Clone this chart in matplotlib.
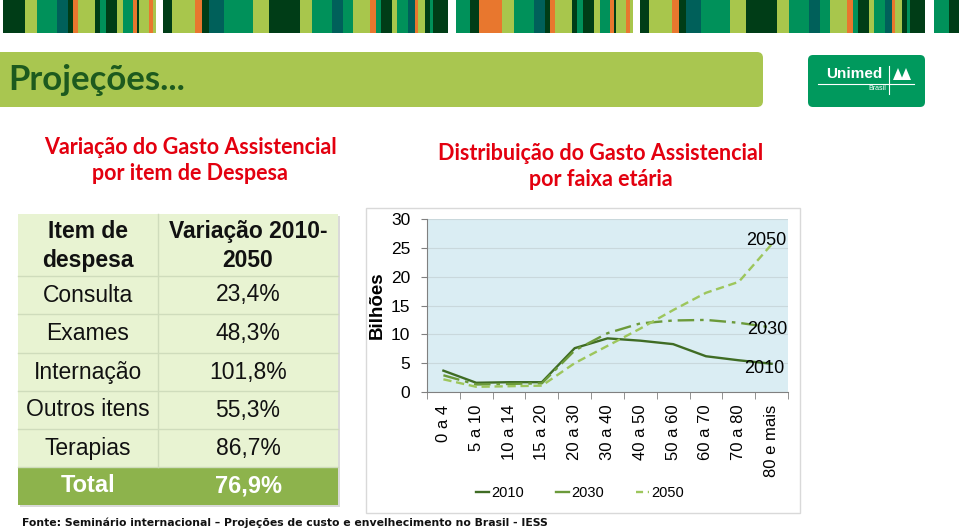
import matplotlib.pyplot as plt
from matplotlib.patches import Rectangle, FancyBboxPatch, Polygon
from matplotlib.lines import Line2D

# chart data
faixas = ["0 a 4", "5 a 10", "10 a 14", "15 a 20", "20 a 30", "30 a 40",
          "40 a 50", "50 a 60", "60 a 70", "70 a 80", "80 e mais"]
gasto_2010 = [3.7, 1.6, 1.7, 1.7, 7.6, 9.3, 8.9, 8.3, 6.2, 5.5, 4.9]
gasto_2030 = [2.9, 1.3, 1.4, 1.5, 7.2, 10.2, 11.9, 12.4, 12.5, 12.0, 11.2]
gasto_2050 = [2.2, 0.9, 1.0, 1.1, 5.0, 8.0, 11.0, 14.2, 17.2, 19.1, 25.6]

# table data
itens = ["Consulta", "Exames", "Internação", "Outros itens", "Terapias"]
variacao = ["23,4%", "48,3%", "101,8%", "55,3%", "86,7%"]
total_variacao = "76,9%"

FONTE = "Fonte: Seminário internacional – Projeções de custo e envelhecimento no Brasil - IESS"

COLORS = {"d": "#003d17", "l": "#a8c64c", "g": "#00915a", "t": "#00605a", "o": "#e8772e"}
# decorative header stripes (start px, end px, colour)
SEG1 = [(2.7, 25, "d"), (25, 36.7, "l"), (36.7, 57.3, "g"), (57.3, 68.3, "t"),
        (68.3, 72.7, "d"), (72.7, 78.3, "o"), (78.3, 95, "l"), (95, 100, "d"),
        (100, 106, "g"), (106, 116.7, "d"), (116.7, 122.7, "l"), (122.7, 132.7, "g"),
        (132.7, 137.3, "o"), (137.3, 139.3, "d"), (139.3, 149, "l"),
        (149, 152.7, "o"), (152.7, 156, "l")]
SEG2 = [(163.3, 171.7, "d"), (171.7, 195, "l"), (195, 202.3, "o"), (202.3, 209.3, "d"),
        (209.3, 224, "t"), (224, 253.3, "g"), (253.3, 269.3, "l"), (269.3, 300, "d"),
        (300, 311.7, "l"), (311.7, 332.3, "g"), (332.3, 343.3, "t"), (343.3, 352.7, "g"),
        (352.7, 370, "l"), (370, 375.7, "o"), (375.7, 380.7, "g"), (380.7, 391.7, "d"),
        (391.7, 397.3, "l"), (397.3, 408.3, "g"), (408.3, 415, "t"), (415, 418.3, "o"),
        (418.3, 425, "l"), (425, 430, "d"), (430, 432.7, "g"), (432.7, 448.3, "d")]


def stripes():
    out = list(SEG1) + list(SEG2)
    out += [(456, 470, "g"), (470, 479, "d"), (479, 502, "o")]
    out += [(a + 477, b + 477, c) for a, b, c in SEG1[1:]]
    out += [(a + 477, b + 477, c) for a, b, c in SEG2]
    out += [(934, 949, "g"), (949, 959, "d")]
    return out


W, H = 959, 532
fig = plt.figure(figsize=(W / 100, H / 100), dpi=100)
bg = fig.add_axes([0, 0, 1, 1])
bg.set_xlim(0, W)
bg.set_ylim(H, 0)
bg.axis("off")

for a, b, c in stripes():
    bg.add_patch(Rectangle((a, 0), b - a, 33, color=COLORS[c], lw=0))

# title banner
bg.add_patch(FancyBboxPatch((-10, 52), 773, 55, boxstyle="round,pad=0,rounding_size=6",
                            fc="#a9c650", ec="none"))
bg.text(8, 80, "Projeções...", fontsize=25, fontweight="bold", family="Lato",
        color="#1d5a1e", va="center", ha="left")

# logo
bg.add_patch(FancyBboxPatch((808, 55), 117, 52, boxstyle="round,pad=0,rounding_size=5",
                            fc="#00995d", ec="none"))
bg.text(854, 74, "Unimed", fontsize=11, fontweight="bold", family="Liberation Sans",
        color="white", ha="center", va="center")
bg.plot([818, 914], [84, 84], color="white", lw=0.8)
bg.plot([889, 889], [66, 94], color="white", lw=0.8)
bg.text(877, 89, "Brasil", fontsize=5, family="Liberation Sans", color="white",
        ha="center", va="center")
bg.add_patch(Polygon([(893, 80), (898, 68), (903, 80)], fc="white", ec="none"))
bg.add_patch(Polygon([(901, 80), (906, 68), (911, 80)], fc="white", ec="none"))

# section titles
red = "#e3000f"
for x, y, s in [(190, 147, "Variação do Gasto Assistencial"),
                (190, 174, "por item de Despesa"),
                (601, 154, "Distribuição do Gasto Assistencial"),
                (601, 180, "por faixa etária")]:
    bg.text(x, y, s, fontsize=15.5, fontweight="bold", family="Lato", color=red,
            ha="center", va="center")

# table
x0, xm, x1 = 18, 158, 338
rows_y = [214, 276, 314, 353, 391, 429, 467, 505]
bg.add_patch(Rectangle((x0 + 2, rows_y[0] + 2), x1 - x0, rows_y[-1] - rows_y[0],
                       fc="#d9d9d9", ec="none"))
bg.add_patch(Rectangle((x0, rows_y[0]), x1 - x0, rows_y[-2] - rows_y[0],
                       fc="#e8f3d2", ec="none"))
bg.add_patch(Rectangle((x0, rows_y[-2]), x1 - x0, rows_y[-1] - rows_y[-2],
                       fc="#8db34c", ec="none"))
for y in rows_y[1:-1]:
    bg.plot([x0, x1], [y, y], color="#cfdcbc", lw=1)
bg.plot([xm, xm], [rows_y[0], rows_y[-2]], color="#cfdcbc", lw=1)
tfont = dict(family="Liberation Sans", fontsize=16.5, ha="center", va="center", color="#111111")
bg.text((x0 + xm) / 2, 246, "Item de\ndespesa", fontweight="bold", linespacing=1.3, **tfont)
bg.text((xm + x1) / 2, 246, "Variação 2010-\n2050", fontweight="bold", linespacing=1.3, **tfont)
for i, (item, val) in enumerate(zip(itens, variacao)):
    yc = (rows_y[i + 1] + rows_y[i + 2]) / 2
    bg.text((x0 + xm) / 2, yc, item, **tfont)
    bg.text((xm + x1) / 2, yc, val, **tfont)
yc = (rows_y[-2] + rows_y[-1]) / 2
tfont["color"] = "white"
tfont["fontsize"] = 17
bg.text((x0 + xm) / 2, yc, "Total", fontweight="bold", **tfont)
bg.text((xm + x1) / 2, yc, total_variacao, fontweight="bold", **tfont)

# chart frame
bg.add_patch(Rectangle((366, 208), 434, 305, fc="white", ec="#d9d9d9", lw=1))

bg.text(22, 523, FONTE, fontsize=7.8, fontweight="bold", family="DejaVu Sans",
        color="#111111", ha="left", va="center")

# line chart
pl, pr, pt, pb = 427, 788, 219, 392
ax = fig.add_axes([pl / W, (H - pb) / H, (pr - pl) / W, (pb - pt) / H])
ax.set_facecolor("#daedf3")
xs = list(range(len(faixas)))
c2010, c2030, c2050 = "#3f6c24", "#6b9a3a", "#9dc65c"
ax.plot(xs, gasto_2010, color=c2010, lw=1.7)
ax.plot(xs, gasto_2030, color=c2030, lw=1.7, dashes=(7, 2.5, 1.5, 2.5))
ax.plot(xs, gasto_2050, color=c2050, lw=1.7, dashes=(3.5, 2))
ax.set_xlim(-0.5, len(faixas) - 0.5)
ax.set_ylim(0, 30)
ax.set_yticks(range(0, 31, 5))
ax.set_xticks(xs)
ax.set_xticklabels(faixas, rotation=90)
ax.set_xticks([i - 0.5 for i in range(len(faixas) + 1)], minor=True)
ax.tick_params(axis="x", which="major", length=0, pad=9, labelsize=12)
ax.tick_params(axis="x", which="minor", length=5, color="#808080")
ax.tick_params(axis="y", length=4, pad=8, labelsize=12.5, color="#808080")
for lab in ax.get_xticklabels() + ax.get_yticklabels():
    lab.set_family("Liberation Sans")
ax.grid(axis="y", color="#c9d8dc", lw=0.8)
ax.set_axisbelow(True)
for s in ["top", "right"]:
    ax.spines[s].set_visible(False)
for s in ["left", "bottom"]:
    ax.spines[s].set_color("#808080")
ax.set_ylabel("Bilhões", fontsize=13.5, fontweight="bold", family="Liberation Sans", labelpad=4)

lfont = dict(fontsize=13, family="Liberation Sans", ha="center", va="center", clip_on=False)
ax.text(9.85, 26.2, "2050", **lfont)
ax.text(9.88, 10.9, "2030", **lfont)
ax.text(9.77, 4.0, "2010", **lfont)

handles = [Line2D([], [], color=c2010, lw=1.7),
           Line2D([], [], color=c2030, lw=1.7),
           Line2D([], [], color=c2050, lw=1.7, dashes=(3, 2))]
fig.legend(handles, ["2010", "2030", "2050"], loc="center", ncol=3, frameon=False,
           bbox_to_anchor=(580 / W, 1 - 493 / H), handlelength=0.9, handletextpad=0.15,
           columnspacing=2.2, prop={"family": "Liberation Sans", "size": 10.5})

fig.savefig("out.png", dpi=100)
